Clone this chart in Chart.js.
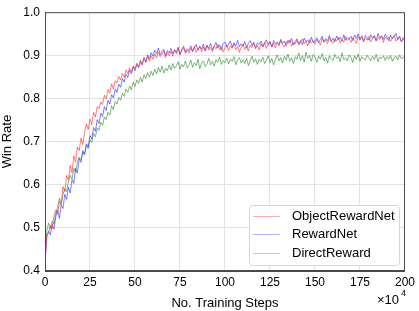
<!DOCTYPE html>
<html>
<head>
<meta charset="utf-8">
<script src="https://cdn.jsdelivr.net/npm/chart.js@4.4.1/dist/chart.umd.min.js"></script>
<style>
    html, body { margin: 0; padding: 0; background: #fff; }
    #wrap { width: 419px; height: 311px; position: relative; }
</style>
</head>
<body>
<div id="wrap"><canvas id="winChart"></canvas></div>
<script>
// training steps (x 10^4), one sample per unit
const steps = Array.from({ length: 201 }, (_, i) => i);
const xTicks = [0, 25, 50, 75, 100, 125, 150, 175, 200];
const yTicks = [0.4, 0.5, 0.6, 0.7, 0.8, 0.9, 1.0];

const seriesNames = ['ObjectRewardNet', 'RewardNet', 'DirectReward'];

const objectRewardNet = [
    0.420, 0.482, 0.489, 0.505, 0.498, 0.528, 0.541, 0.532, 0.561, 0.552,
    0.596, 0.584, 0.622, 0.611, 0.645, 0.628, 0.667, 0.652, 0.688, 0.679,
    0.708, 0.693, 0.722, 0.741, 0.728, 0.752, 0.739, 0.768, 0.757, 0.781,
    0.776, 0.792, 0.786, 0.808, 0.799, 0.821, 0.812, 0.834, 0.822, 0.841,
    0.836, 0.851, 0.843, 0.858, 0.849, 0.866, 0.857, 0.871, 0.862, 0.876,
    0.869, 0.882, 0.874, 0.889, 0.878, 0.893, 0.884, 0.897, 0.886, 0.899,
    0.891, 0.903, 0.894, 0.908, 0.897, 0.902, 0.911, 0.895, 0.906, 0.899,
    0.909, 0.898, 0.913, 0.903, 0.916, 0.901, 0.910, 0.918, 0.904, 0.912,
    0.905, 0.917, 0.909, 0.921, 0.907, 0.914, 0.922, 0.908, 0.919, 0.911,
    0.924, 0.912, 0.918, 0.909, 0.921, 0.915, 0.926, 0.913, 0.920, 0.908,
    0.917, 0.925, 0.911, 0.922, 0.916, 0.928, 0.913, 0.921, 0.907, 0.919,
    0.926, 0.914, 0.922, 0.910, 0.924, 0.918, 0.929, 0.915, 0.923, 0.912,
    0.927, 0.919, 0.931, 0.916, 0.925, 0.933, 0.920, 0.928, 0.917, 0.930,
    0.922, 0.934, 0.925, 0.919, 0.932, 0.927, 0.936, 0.921, 0.930, 0.926,
    0.935, 0.924, 0.931, 0.938, 0.927, 0.933, 0.922, 0.936, 0.929, 0.934,
    0.926, 0.937, 0.931, 0.924, 0.939, 0.930, 0.935, 0.927, 0.941, 0.932,
    0.928, 0.938, 0.933, 0.942, 0.929, 0.936, 0.931, 0.944, 0.934, 0.939,
    0.930, 0.941, 0.935, 0.928, 0.943, 0.937, 0.946, 0.932, 0.940, 0.935,
    0.944, 0.931, 0.939, 0.947, 0.934, 0.941, 0.936, 0.945, 0.930, 0.942,
    0.937, 0.943, 0.932, 0.940, 0.946, 0.933, 0.939, 0.944, 0.931, 0.938,
    0.934
];

const rewardNet = [
    0.418, 0.479, 0.492, 0.484, 0.508, 0.497, 0.526, 0.541, 0.522, 0.553,
    0.545, 0.578, 0.566, 0.594, 0.581, 0.612, 0.603, 0.638, 0.627, 0.661,
    0.652, 0.679, 0.671, 0.695, 0.688, 0.714, 0.706, 0.733, 0.724, 0.751,
    0.742, 0.766, 0.758, 0.781, 0.772, 0.796, 0.787, 0.809, 0.801, 0.822,
    0.814, 0.833, 0.826, 0.846, 0.838, 0.856, 0.849, 0.866, 0.857, 0.873,
    0.864, 0.879, 0.871, 0.886, 0.878, 0.895, 0.884, 0.901, 0.892, 0.906,
    0.898, 0.912, 0.903, 0.917, 0.901, 0.909, 0.914, 0.899, 0.911, 0.905,
    0.916, 0.904, 0.913, 0.907, 0.919, 0.902, 0.914, 0.921, 0.908, 0.915,
    0.911, 0.922, 0.909, 0.918, 0.925, 0.912, 0.920, 0.914, 0.926, 0.910,
    0.923, 0.916, 0.928, 0.913, 0.921, 0.930, 0.917, 0.924, 0.912, 0.927,
    0.931, 0.919, 0.926, 0.933, 0.918, 0.929, 0.922, 0.935, 0.920, 0.927,
    0.921, 0.932, 0.917, 0.928, 0.934, 0.923, 0.930, 0.918, 0.929, 0.925,
    0.933, 0.920, 0.927, 0.936, 0.924, 0.931, 0.919, 0.934, 0.926, 0.930,
    0.925, 0.937, 0.928, 0.933, 0.922, 0.935, 0.929, 0.939, 0.924, 0.932,
    0.938, 0.927, 0.934, 0.925, 0.940, 0.931, 0.936, 0.928, 0.942, 0.930,
    0.933, 0.941, 0.929, 0.937, 0.944, 0.931, 0.939, 0.934, 0.946, 0.932,
    0.940, 0.931, 0.945, 0.936, 0.942, 0.933, 0.948, 0.935, 0.941, 0.938,
    0.944, 0.934, 0.947, 0.939, 0.950, 0.936, 0.943, 0.932, 0.946, 0.941,
    0.935, 0.948, 0.939, 0.944, 0.933, 0.951, 0.940, 0.945, 0.937, 0.949,
    0.942, 0.934, 0.947, 0.938, 0.943, 0.951, 0.936, 0.944, 0.932, 0.941,
    0.935
];

const directReward = [
    0.452, 0.493, 0.511, 0.498, 0.516, 0.509, 0.534, 0.548, 0.569, 0.556,
    0.578, 0.591, 0.584, 0.606, 0.622, 0.613, 0.638, 0.629, 0.652, 0.664,
    0.658, 0.676, 0.669, 0.692, 0.684, 0.705, 0.698, 0.719, 0.711, 0.732,
    0.726, 0.745, 0.738, 0.757, 0.751, 0.768, 0.762, 0.783, 0.774, 0.793,
    0.787, 0.802, 0.796, 0.812, 0.805, 0.822, 0.814, 0.829, 0.820, 0.838,
    0.828, 0.843, 0.835, 0.849, 0.838, 0.855, 0.846, 0.860, 0.849, 0.863,
    0.853, 0.868, 0.857, 0.872, 0.861, 0.875, 0.859, 0.870, 0.864, 0.878,
    0.866, 0.881, 0.870, 0.876, 0.885, 0.868, 0.879, 0.873, 0.887, 0.871,
    0.877, 0.889, 0.872, 0.883, 0.876, 0.891, 0.869, 0.882, 0.887, 0.874,
    0.880, 0.893, 0.878, 0.886, 0.875, 0.890, 0.884, 0.896, 0.879, 0.888,
    0.883, 0.894, 0.880, 0.891, 0.886, 0.897, 0.878, 0.889, 0.895, 0.882,
    0.890, 0.881, 0.893, 0.876, 0.887, 0.898, 0.884, 0.892, 0.879, 0.891,
    0.885, 0.896, 0.881, 0.889, 0.899, 0.883, 0.893, 0.878, 0.890, 0.901,
    0.887, 0.895, 0.882, 0.898, 0.889, 0.903, 0.886, 0.894, 0.881, 0.897,
    0.891, 0.905, 0.888, 0.899, 0.884, 0.907, 0.893, 0.900, 0.886, 0.902,
    0.896, 0.884, 0.898, 0.891, 0.904, 0.887, 0.895, 0.882, 0.899, 0.892,
    0.888, 0.902, 0.893, 0.897, 0.885, 0.906, 0.890, 0.894, 0.887, 0.901,
    0.895, 0.883, 0.899, 0.891, 0.903, 0.886, 0.897, 0.892, 0.889, 0.900,
    0.894, 0.887, 0.898, 0.890, 0.902, 0.885, 0.896, 0.893, 0.899, 0.888,
    0.897, 0.891, 0.900, 0.886, 0.895, 0.898, 0.889, 0.901, 0.892, 0.896,
    0.891
];

const FONT = '"Liberation Sans", Arial, Helvetica, sans-serif';
const lineColors = ['rgba(255, 40, 40, 0.6)', 'rgba(40, 40, 255, 0.6)', 'rgba(30, 140, 30, 0.6)'];

function toPoints(values) {
    return values.map((v, i) => ({ x: steps[i], y: v }));
}

// boxed frame around plot area plus legend in the lower right corner
const framePlugin = {
    id: 'frame',
    afterDatasetsDraw(chart) {
        const { ctx, chartArea: a } = chart;
        ctx.save();
        ctx.strokeStyle = '#4a4a4a';
        ctx.lineWidth = 1;
        ctx.strokeRect(a.left + 0.5, a.top + 0.5, a.right - a.left - 1, a.bottom - a.top - 1);

        // legend
        const bx = a.right - 156, by = a.bottom - 66, bw = 150, bh = 60;
        ctx.fillStyle = 'rgba(255,255,255,0.9)';
        ctx.strokeStyle = '#d6d6d6';
        ctx.beginPath();
        ctx.roundRect(bx + 0.5, by + 0.5, bw, bh, 3);
        ctx.fill();
        ctx.stroke();

        ctx.font = '13px ' + FONT;
        ctx.textBaseline = 'middle';
        ctx.textAlign = 'left';
        chart.data.datasets.forEach((ds, i) => {
            const y = by + 10.5 + i * 18.5;
            ctx.strokeStyle = ds.borderColor;
            ctx.globalAlpha = 0.6;
            ctx.beginPath();
            ctx.moveTo(bx + 4, Math.round(y) + 0.5);
            ctx.lineTo(bx + 31, Math.round(y) + 0.5);
            ctx.stroke();
            ctx.globalAlpha = 1;
            ctx.fillStyle = '#000';
            ctx.fillText(ds.label, bx + 43, y + 0.5);
        });

        // exponent note under the right end of x axis
        ctx.font = '13px ' + FONT;
        ctx.textAlign = 'left';
        ctx.textBaseline = 'alphabetic';
        ctx.fillText('\u00d710', 377, 304);
        ctx.font = '9px ' + FONT;
        ctx.fillText('4', 401, 296);
        ctx.restore();
    }
};

function initializeChart() {
    const ctx = document.getElementById('winChart').getContext('2d');
    window.winChart = new Chart(ctx, {
        type: 'line',
        data: {
            datasets: [objectRewardNet, rewardNet, directReward].map((vals, i) => ({
                label: seriesNames[i],
                data: toPoints(vals),
                borderColor: lineColors[i],
                borderWidth: 1,
                pointRadius: 0,
                tension: 0,
                fill: false
            }))
        },
        options: {
            responsive: false,
            animation: false,
            layout: { padding: { top: 5, right: 11, left: 0, bottom: 0 } },
            plugins: {
                legend: { display: false },
                tooltip: { enabled: false }
            },
            scales: {
                x: {
                    type: 'linear',
                    min: 0,
                    max: 200,
                    afterBuildTicks: scale => { scale.ticks = xTicks.map(v => ({ value: v })); },
                    afterFit: scale => { scale.height = 40; },
                    grid: { color: '#e3e3e3', drawTicks: false },
                    border: { color: '#4a4a4a' },
                    ticks: {
                        padding: 4,
                        color: '#000',
                        maxRotation: 0,
                        font: { family: FONT, size: 12 }
                    },
                    title: {
                        display: true,
                        text: 'No. Training Steps',
                        color: '#000',
                        padding: { top: 4, bottom: 0 },
                        font: { family: FONT, size: 13 }
                    }
                },
                y: {
                    min: 0.4,
                    max: 1.0,
                    afterBuildTicks: scale => { scale.ticks = yTicks.map(v => ({ value: v })); },
                    afterFit: scale => { scale.width = 45; },
                    grid: { color: '#e3e3e3', drawTicks: false },
                    border: { color: '#4a4a4a' },
                    ticks: {
                        padding: 5,
                        color: '#000',
                        font: { family: FONT, size: 12 },
                        callback: v => v.toFixed(1)
                    },
                    title: {
                        display: true,
                        text: 'Win Rate',
                        color: '#000',
                        padding: { top: 0, bottom: 2 },
                        font: { family: FONT, size: 13 }
                    }
                }
            }
        },
        plugins: [framePlugin]
    });
}

document.addEventListener('DOMContentLoaded', function() {
    const canvas = document.getElementById('winChart');
    canvas.width = 419;
    canvas.height = 311;
    initializeChart();
});
</script>
</body>
</html>
